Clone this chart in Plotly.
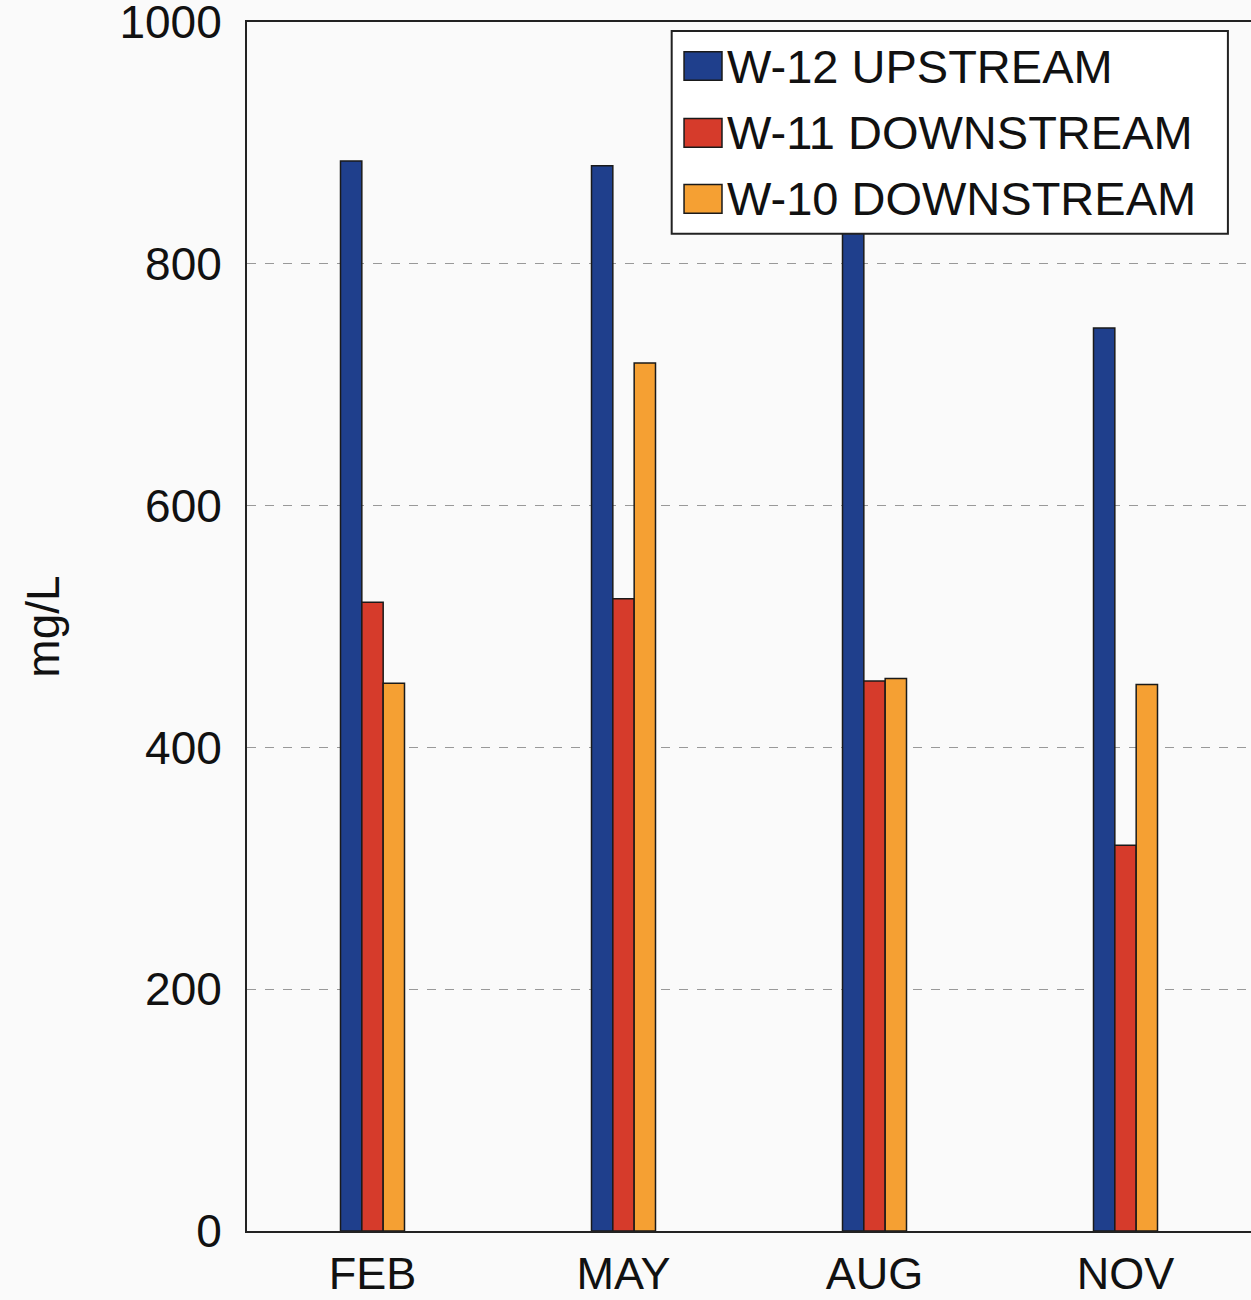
import plotly.graph_objects as go

# Sampling months and concentrations (mg/L)
months = ["FEB", "MAY", "AUG", "NOV"]
w12_upstream = [885, 881, 880, 747]
w11_downstream = [520, 523, 455, 319]
w10_downstream = [453, 718, 457, 452]

series = [
    ("W-12 UPSTREAM", w12_upstream, "#1f3f8c"),
    ("W-11 DOWNSTREAM", w11_downstream, "#d63b2b"),
    ("W-10 DOWNSTREAM", w10_downstream, "#f5a033"),
]

fig = go.Figure()
for name, values, color in series:
    fig.add_trace(go.Bar(
        x=months, y=values, name=name,
        marker=dict(color=color, line=dict(color="#1a1a1a", width=1.5)),
    ))

# Boxed legend with big square swatches, drawn in paper coordinates
fig.add_shape(type="rect", xref="paper", yref="paper",
              x0=0.423, x1=0.977, y0=0.8248, y1=0.9926,
              fillcolor="white", line=dict(color="#222222", width=2), layer="above")
row_y = [0.9636, 0.9083, 0.8537]
for (name, _, color), y in zip(series, row_y):
    fig.add_shape(type="rect", xref="paper", yref="paper",
                  x0=0.4353, x1=0.4731, y0=y - 0.0118, y1=y + 0.0118,
                  fillcolor=color, line=dict(color="#1a1a1a", width=1.5), layer="above")
    fig.add_annotation(xref="paper", yref="paper", x=0.476, y=y,
                       xanchor="left", yanchor="middle", text=name, showarrow=False,
                       font=dict(size=47, color="#111111"))

fig.update_layout(
    width=1251, height=1300,
    margin=dict(l=247, r=0, t=22, b=69),
    paper_bgcolor="#fafafa",
    plot_bgcolor="#fafafa",
    barmode="group",
    bargap=0.745,
    bargroupgap=0,
    font=dict(family="Liberation Sans, Arial, sans-serif", size=46, color="#111111"),
    showlegend=False,
    yaxis=dict(
        range=[0, 1000], tickvals=[0, 200, 400, 600, 800, 1000],
        showgrid=True, gridcolor="#999999", griddash="dash", gridwidth=1,
        showline=True, linecolor="#222222", linewidth=2, mirror=True,
        ticks="", ticklabelstandoff=14, ticklabeloverflow="allow", zeroline=False,
        automargin=False,
        title=dict(text="mg/L", font=dict(size=46), standoff=45),
    ),
    xaxis=dict(
        range=[-0.5, 3.5],
        showline=True, linecolor="#222222", linewidth=2, mirror=True,
        ticks="", ticklabelstandoff=2, automargin=False,
        tickfont=dict(size=45),
    ),
)

fig.write_html("out.html", config={"displayModeBar": False},
               post_script="document.body.style.margin='0';document.body.style.background='#fafafa';")
